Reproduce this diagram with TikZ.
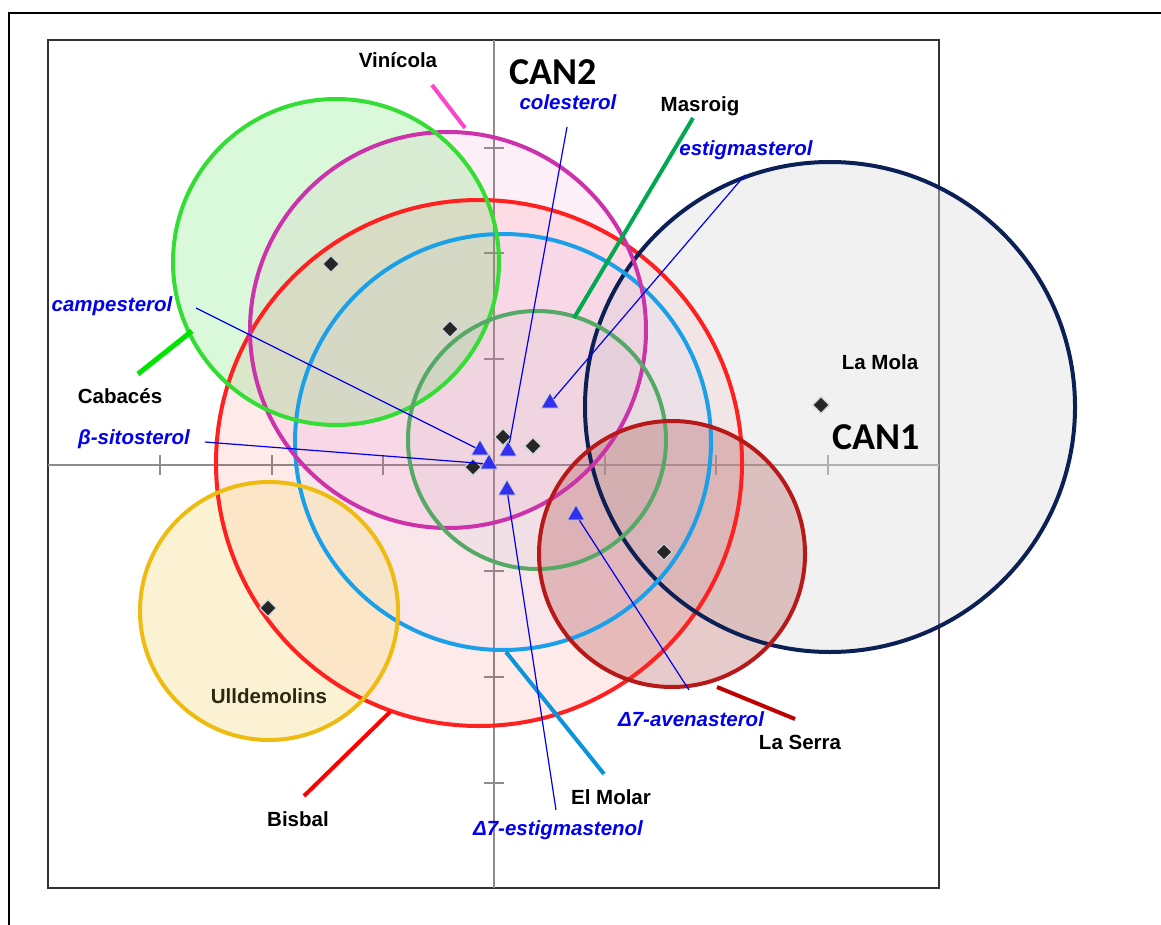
\documentclass[tikz,border=0pt]{standalone}
\usepackage{fontspec}
\setmainfont{Liberation Sans}
\newfontfamily\calfont{Carlito}
\usetikzlibrary{shapes.geometric}
\definecolor{cabc}{HTML}{33DD33}
\definecolor{vinc}{HTML}{CC33AA}
\definecolor{bisc}{HTML}{FF2020}
\definecolor{molc}{HTML}{1AA0E8}
\definecolor{masc}{HTML}{55A865}
\definecolor{lmc}{HTML}{0B2055}
\definecolor{serc}{HTML}{B81818}
\definecolor{ullc}{HTML}{EEBB11}
\definecolor{varblue}{HTML}{0000EE}
\definecolor{tri}{HTML}{3030EE}
\definecolor{axisgray}{HTML}{8C8C8C}
\definecolor{ulltext}{HTML}{2E2810}
\definecolor{masleader}{HTML}{00A850}
\definecolor{vinleader}{HTML}{FF44CC}
\tikzset{
  ring/.style={line width=4pt},
  lbl/.style={font=\fontsize{20.5}{24}\selectfont\bfseries, inner sep=0pt},
  varlbl/.style={font=\fontsize{20.5}{24}\selectfont\bfseries\itshape, text=varblue, inner sep=0pt},
  canlbl/.style={font=\calfont\fontsize{38}{44}\selectfont\bfseries, inner sep=0pt},
  lead/.style={line width=4pt},
  varline/.style={draw=varblue, line width=1.2pt},
  diam/.style={diamond, fill=black!85, draw=cyan!15!gray!40, line width=1.2pt, minimum size=17pt, inner sep=0pt},
  trim/.style={regular polygon, regular polygon sides=3, fill=tri, draw=gray!35, line width=0.6pt, minimum size=20pt, inner sep=0pt},
  tick/.style={draw=axisgray, line width=1.2pt}
}
\begin{document}
\begin{tikzpicture}[x=1pt,y=-1pt]
\useasboundingbox (0,0) rectangle (1161,925);
\fill[white] (0,0) rectangle (1161,925);

% outer border
\draw[line width=2.6pt] (9,925) -- (9,13) -- (1161,13);

% plot frame
\draw[draw=black!80, line width=1.5pt] (48,40) rectangle (939,888);

% axes
\draw[tick] (48,465) -- (939,465);
\draw[tick] (494,40) -- (494,888);
\foreach \tx in {160,272,383,605,716,828} \draw[tick] (\tx,455) -- (\tx,475);
\foreach \ty in {148,253,359,571,677,783} \draw[tick] (484,\ty) -- (504,\ty);
\draw[tick] (484,465) -- (504,465);

% group circle centres
\coordinate (cBis) at (479,463);
\coordinate (cLM)  at (830,407);
\coordinate (cMol) at (503,442);
\coordinate (cVin) at (448,330);
\coordinate (cCab) at (336,262);
\coordinate (cMas) at (537,440);
\coordinate (cSer) at (672,554);
\coordinate (cUll) at (269,611);

% translucent fills
\fill[bisc, fill opacity=0.09] (cBis) circle[radius=263];
\fill[black!12, fill opacity=0.45] (cLM) circle[radius=245];
\fill[blue!30, fill opacity=0.07] (cMol) circle[radius=208];
\fill[magenta!60, fill opacity=0.10] (cVin) circle[radius=198];
\fill[cabc, fill opacity=0.18] (cCab) circle[radius=163];
\fill[gray!60, fill opacity=0.10] (cMas) circle[radius=129];
\fill[serc!80!black, fill opacity=0.22] (cSer) circle[radius=133];
\fill[ullc!40, fill opacity=0.45] (cUll) circle[radius=129];

% outlines
\draw[ring, draw=bisc] (cBis) circle[radius=263];
\draw[ring, draw=lmc] (cLM) circle[radius=245];
\draw[ring, draw=molc] (cMol) circle[radius=208];
\draw[ring, draw=vinc] (cVin) circle[radius=198];
\draw[ring, draw=cabc] (cCab) circle[radius=163];
\draw[ring, draw=masc] (cMas) circle[radius=129];
\draw[ring, draw=serc] (cSer) circle[radius=133];
\draw[ring, draw=ullc] (cUll) circle[radius=129];

% group leader lines
\coordinate (vinA) at (432,85);   \coordinate (vinB) at (465,128);
\coordinate (masA) at (693,118);  \coordinate (masB) at (574,318);
\coordinate (cabA) at (138,374);  \coordinate (cabB) at (192,331);
\coordinate (bisA) at (304,796);  \coordinate (bisB) at (390,712);
\coordinate (molA) at (506,652);  \coordinate (molB) at (604,774);
\coordinate (serA) at (717,687);  \coordinate (serB) at (795,719);
\draw[lead, draw=vinleader] (vinA) -- (vinB);
\draw[lead, draw=masleader] (masA) -- (masB);
\draw[lead, draw=green!90!black, line width=5pt] (cabA) -- (cabB);
\draw[lead, draw=red] (bisA) -- (bisB);
\draw[lead, draw=cyan!80!blue] (molA) -- (molB);
\draw[lead, draw=red!75!black] (serA) -- (serB);

% group centroids
\node[diam] (gCab) at (331,264) {};
\node[diam] (gVin) at (450,329) {};
\node[diam] (gMol) at (503,437) {};
\node[diam] (gMas) at (533,446) {};
\node[diam] (gBis) at (473,467) {};
\node[diam] (gLM)  at (821,405) {};
\node[diam] (gSer) at (664,552) {};
\node[diam] (gUll) at (268,608) {};

% sterol vectors
\node[trim] (tCol) at (508,451) {};
\node[trim] (tEst) at (550,403) {};
\node[trim] (tCam) at (480,450) {};
\node[trim] (tSit) at (489,464) {};
\node[trim] (tD7e) at (507,490) {};
\node[trim] (tD7a) at (576,515) {};
\coordinate (sCol) at (567,127);
\coordinate (sEst) at (745,175);
\coordinate (sCam) at (196,308);
\coordinate (sSit) at (205,442);
\coordinate (sD7e) at (556,810);
\coordinate (sD7a) at (689,690);
\draw[varline] (sCol) -- (tCol);
\draw[varline] (sEst) -- (tEst);
\draw[varline] (sCam) -- (tCam);
\draw[varline] (sSit) -- (tSit);
\draw[varline] (sD7e) -- (tD7e);
\draw[varline] (tD7a) -- (sD7a);

% labels
\node[lbl] (nVin) at (398,60) {Vinícola};
\node[lbl] (nMas) at (700,106) {Masroig};
\node[lbl] (nCab) at (120,396) {Cabacés};
\node[lbl] (nLM)  at (880,362) {La Mola};
\node[lbl, text=ulltext] (nUll) at (269,696) {Ulldemolins};
\node[lbl] (nSer) at (800,742) {La Serra};
\node[lbl] (nMol) at (611,797) {El Molar};
\node[lbl] (nBis) at (298,819) {Bisbal};

\node[varlbl] (vCol) at (568,102) {colesterol};
\node[varlbl] (vEst) at (746,150) {estigmasterol};
\node[varlbl] (vCam) at (112,306) {campesterol};
\node[varlbl] (vSit) at (134,439) {β-sitosterol};
\node[varlbl] (vD7a) at (691,719) {Δ7-avenasterol};
\node[varlbl] (vD7e) at (558,830) {Δ7-estigmastenol};

\node[canlbl] (can2) at (553,72) {CAN2};
\node[canlbl] (can1) at (876,437) {CAN1};
\end{tikzpicture}
\end{document}
